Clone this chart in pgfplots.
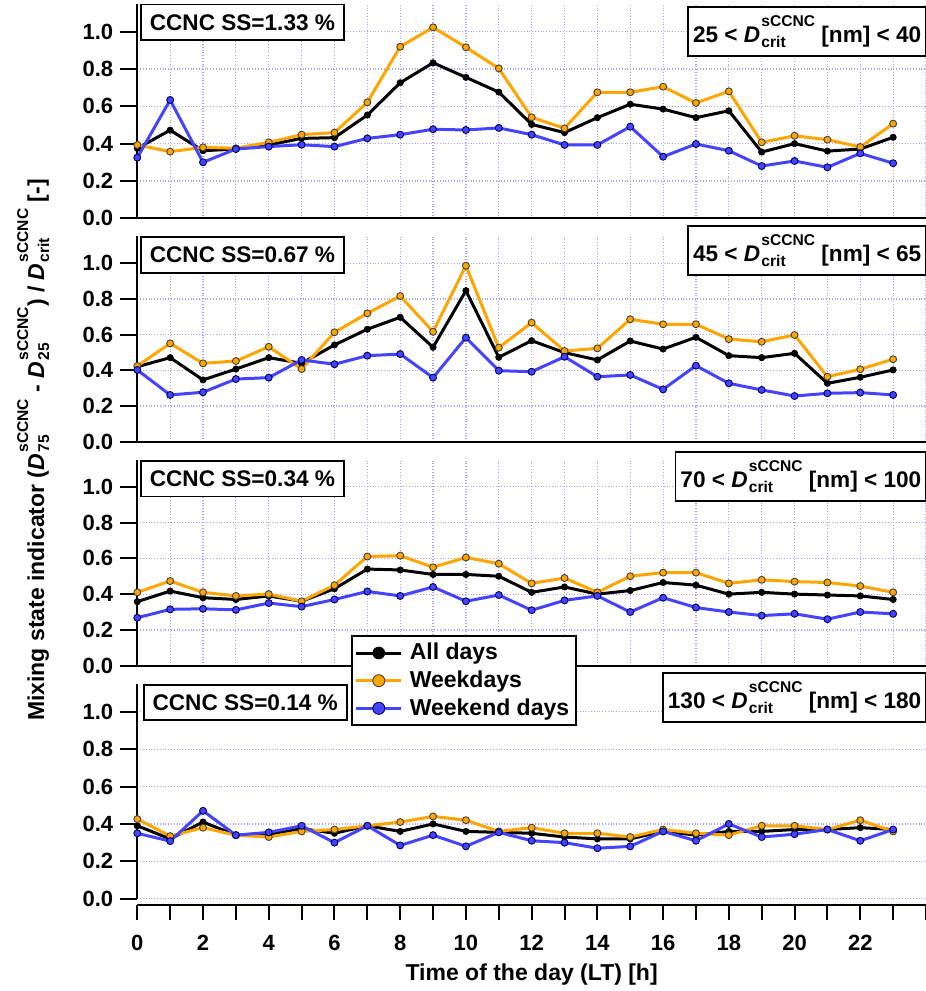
\documentclass[border=0pt]{standalone}
\usepackage{fontspec}
\setmainfont{Liberation Sans}
\usepackage{pgfplots}
\usepackage{pgfplotstable}
\pgfplotsset{compat=1.18}

\definecolor{wkC}{RGB}{255,165,0}
\definecolor{weC}{RGB}{68,68,255}
\definecolor{gridC}{RGB}{165,165,255}

% D with stacked super/subscript: #1 = subscript
\newcommand{\Dss}[1]{%
  \textit{D}\hspace{0.6pt}%
  \sbox0{\fontsize{7.8pt}{8pt}\selectfont sCCNC}%
  \sbox2{\fontsize{7.8pt}{8pt}\selectfont #1}%
  \rlap{\raisebox{8pt}{\usebox0}}\raisebox{-2.5pt}{\usebox2}%
  \hspace{\dimexpr\wd0-\wd2\relax}}

\pgfplotstableread{
h all wk we
0 0.375 0.393 0.325
1 0.472 0.357 0.634
2 0.362 0.380 0.300
3 0.371 0.375 0.371
4 0.393 0.407 0.384
5 0.428 0.448 0.394
6 0.432 0.459 0.384
7 0.553 0.621 0.428
8 0.726 0.919 0.448
9 0.833 1.023 0.477
10 0.755 0.916 0.473
11 0.676 0.803 0.484
12 0.503 0.541 0.448
13 0.459 0.482 0.393
14 0.539 0.675 0.393
15 0.611 0.675 0.491
16 0.585 0.705 0.330
17 0.539 0.618 0.398
18 0.576 0.680 0.362
19 0.355 0.407 0.280
20 0.400 0.442 0.307
21 0.360 0.421 0.273
22 0.371 0.382 0.348
23 0.434 0.507 0.295
}\tA

\pgfplotstableread{
h all wk we
0 0.420 0.424 0.402
1 0.471 0.551 0.262
2 0.346 0.439 0.277
3 0.407 0.452 0.351
4 0.471 0.532 0.359
5 0.439 0.407 0.458
6 0.542 0.613 0.434
7 0.630 0.719 0.482
8 0.697 0.816 0.491
9 0.529 0.616 0.359
10 0.846 0.986 0.583
11 0.473 0.527 0.398
12 0.566 0.667 0.392
13 0.499 0.508 0.476
14 0.458 0.523 0.364
15 0.564 0.686 0.374
16 0.519 0.658 0.293
17 0.585 0.658 0.426
18 0.482 0.575 0.327
19 0.471 0.560 0.290
20 0.495 0.598 0.256
21 0.327 0.364 0.271
22 0.361 0.406 0.275
23 0.402 0.462 0.262
}\tB

\pgfplotstableread{
h all wk we
0 0.358 0.410 0.268
1 0.417 0.473 0.315
2 0.380 0.410 0.318
3 0.370 0.390 0.312
4 0.390 0.400 0.350
5 0.360 0.360 0.330
6 0.430 0.450 0.370
7 0.540 0.610 0.415
8 0.535 0.615 0.390
9 0.510 0.550 0.440
10 0.510 0.605 0.360
11 0.500 0.570 0.395
12 0.410 0.460 0.310
13 0.440 0.490 0.365
14 0.400 0.410 0.390
15 0.420 0.500 0.300
16 0.465 0.520 0.380
17 0.450 0.520 0.325
18 0.400 0.460 0.300
19 0.410 0.480 0.280
20 0.400 0.470 0.290
21 0.395 0.465 0.260
22 0.390 0.445 0.300
23 0.370 0.410 0.290
}\tC

\pgfplotstableread{
h all wk we
0 0.390 0.426 0.350
1 0.320 0.335 0.308
2 0.410 0.380 0.470
3 0.340 0.340 0.340
4 0.345 0.330 0.355
5 0.375 0.360 0.390
6 0.350 0.370 0.300
7 0.390 0.390 0.390
8 0.360 0.410 0.285
9 0.400 0.440 0.340
10 0.360 0.420 0.280
11 0.355 0.360 0.355
12 0.350 0.380 0.310
13 0.330 0.350 0.300
14 0.320 0.350 0.270
15 0.320 0.330 0.280
16 0.360 0.370 0.360
17 0.340 0.350 0.310
18 0.360 0.340 0.400
19 0.360 0.390 0.330
20 0.370 0.390 0.345
21 0.370 0.370 0.370
22 0.380 0.420 0.310
23 0.370 0.360 0.370
}\tD

\tikzset{
  lbox/.style={draw=black, line width=0.9pt, fill=white, anchor=north west,
    inner xsep=4.4pt, inner ysep=4.9pt, font=\fontsize{11.3}{13}\selectfont\bfseries},
  rbox/.style={draw=black, line width=0.9pt, fill=white, anchor=north east,
    inner xsep=2.5pt, inner ysep=4.2pt, font=\fontsize{11.3}{13}\selectfont\bfseries},
}

\pgfplotsset{
  panel/.style={
    scale only axis, width=394.35pt,
    xmin=0, xmax=24, ymin=0, ymax=1.15,
    axis x line*=bottom, axis y line*=left,
    axis line style={-, line width=1pt, black},
    xtick={0,...,24}, xticklabels={}, xtick style={draw=none},
    ytick={0,0.2,0.4,0.6,0.8,1.0},
    ytick align=outside, ytick style={line width=1pt, black},
    major tick length=8.5pt,
    yticklabel style={font=\fontsize{11}{13}\selectfont\bfseries,
      /pgf/number format/.cd, fixed, fixed zerofill, precision=1, assume math mode=true},
    grid=major, major grid style={densely dotted, gridC, line width=0.6pt},
    clip=false,
    legend image code/.code={\draw[mark repeat=2,mark phase=2,mark size=3pt]
       plot coordinates {(0pt,0pt) (11.25pt,0pt) (22.5pt,0pt)};},
  },
  allS/.style={black, line width=1.5pt, line join=round, mark=*, mark size=1.6pt,
    mark options={fill=black, draw=black, line width=0.3pt}},
  wkS/.style={wkC, line width=1.5pt, line join=round, mark=*, mark size=1.75pt,
    mark options={fill=wkC, draw=black!75, line width=0.45pt}},
  weS/.style={weC, line width=1.5pt, line join=round, mark=*, mark size=1.75pt,
    mark options={fill=weC, draw=blue!35!black, line width=0.45pt}},
}

\begin{document}
\bfseries
\begin{tikzpicture}
\useasboundingbox (0,0) rectangle (463pt,-495.5pt);

% Panel 1
\begin{axis}[panel, at={(68.65pt,-109.15pt)}, anchor=south west, height=107.35pt]
\addplot[allS] table[x=h,y=all]{\tA};
\addplot[wkS] table[x=h,y=wk]{\tA};
\addplot[weS] table[x=h,y=we]{\tA};
\node[lbox] at (rel axis cs:0,1) [xshift=1.4pt] {CCNC SS=1.33 \%};
\node[rbox] at (rel axis cs:1,1) [xshift=0.6pt, yshift=-1.35pt] {25 < \Dss{crit} [nm] < 40};
\end{axis}

% Panel 2
\begin{axis}[panel, at={(68.65pt,-220.85pt)}, anchor=south west, height=102.64pt]
\addplot[allS] table[x=h,y=all]{\tB};
\addplot[wkS] table[x=h,y=wk]{\tB};
\addplot[weS] table[x=h,y=we]{\tB};
\node[lbox] at (rel axis cs:0,1) [xshift=1.4pt] {CCNC SS=0.67 \%};
\node[rbox] at (rel axis cs:1,1) [xshift=0.6pt, yshift=5.5pt] {45 < \Dss{crit} [nm] < 65};
\end{axis}

% Panel 3
\begin{axis}[panel, at={(68.65pt,-332.85pt)}, anchor=south west, height=102.9pt]
\addplot[allS] table[x=h,y=all]{\tC};
\addplot[wkS] table[x=h,y=wk]{\tC};
\addplot[weS] table[x=h,y=we]{\tC};
\node[lbox] at (rel axis cs:0,1) [xshift=1.4pt] {CCNC SS=0.34 \%};
\node[rbox] at (rel axis cs:1,1) [xshift=0.6pt, yshift=4.5pt] {70 < \Dss{crit} [nm] < 100};
\end{axis}

% Panel 4
\begin{axis}[panel, at={(68.65pt,-449.35pt)}, anchor=south west, height=107.5pt,
  axis x line=none,
  legend style={at={(0.2706,1.2262)}, anchor=north west, draw=black, line width=0.9pt,
    fill=white, font=\fontsize{11.5}{13.5}\selectfont\bfseries,
    inner xsep=1.6pt, inner ysep=1.6pt, nodes={inner sep=2pt},
    /tikz/every odd column/.append style={column sep=1.5pt}},
  legend cell align=left]
\addplot[allS] table[x=h,y=all]{\tD};
\addlegendentry{All days}
\addplot[wkS] table[x=h,y=wk]{\tD};
\addlegendentry{Weekdays}
\addplot[weS] table[x=h,y=we]{\tD};
\addlegendentry{Weekend days}
\node[lbox] at (rel axis cs:0,1) [xshift=2.8pt] {CCNC SS=0.14 \%};
\node[rbox] at (rel axis cs:1,1) [xshift=0.6pt, yshift=5.8pt] {130 < \Dss{crit} [nm] < 180};
\end{axis}

% Bottom x axis
\begin{axis}[scale only axis, width=394.35pt, height=1pt,
  at={(68.65pt,-452.5pt)}, anchor=south west,
  xmin=0, xmax=24, ymin=0, ymax=1,
  axis x line*=bottom, axis y line=none,
  axis line style={-, line width=1pt, black},
  xtick={0,...,24},
  xticklabels={0,,2,,4,,6,,8,,10,,12,,14,,16,,18,,20,,22,,},
  xtick align=outside, xtick style={line width=1pt, black},
  major tick length=7.5pt,
  xticklabel style={font=\fontsize{11}{13}\selectfont\bfseries, yshift=-3.9pt},
  xlabel={Time of the day (LT) [h]},
  xlabel style={at={(axis description cs:0.5,0)}, anchor=base, yshift=-37.5pt,
    font=\fontsize{11.5}{13}\selectfont\bfseries}]
\end{axis}

% y label
\node[rotate=90, anchor=base, font=\fontsize{11.5}{13}\selectfont\bfseries]
  at (22pt,-225pt) {Mixing state indicator (\Dss{75} - \Dss{25}) / \Dss{crit} [-]};
\end{tikzpicture}
\end{document}
